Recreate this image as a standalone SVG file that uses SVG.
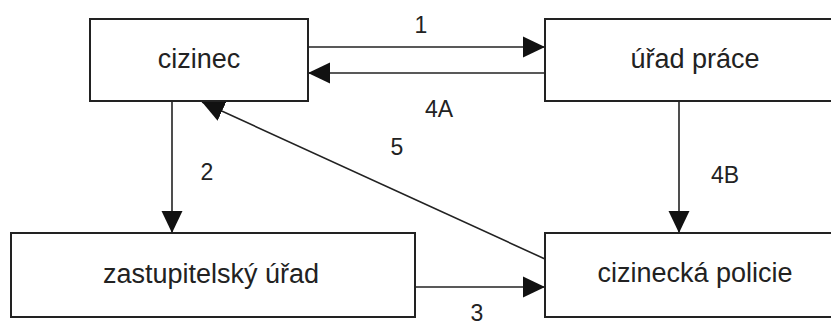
<svg xmlns="http://www.w3.org/2000/svg" width="831" height="327" viewBox="0 0 831 327">
<style>
.box{fill:#fff;stroke:#222;stroke-width:2}
.t{font-family:"Liberation Sans",Arial,sans-serif;font-size:27px;fill:#222;text-anchor:middle}
.l{font-family:"Liberation Sans",Arial,sans-serif;font-size:23px;fill:#222;text-anchor:middle}
.c{stroke:#222;stroke-width:1.6;fill:none;marker-end:url(#ah)}
</style>
<defs>
<marker id="ah" markerUnits="userSpaceOnUse" markerWidth="22" markerHeight="22" viewBox="0 0 21 20" refX="21" refY="10" orient="auto">
<path d="M0,0 L21,10 L0,20 Z" fill="#111"/>
</marker>
</defs>
<rect width="831" height="327" fill="#fff"/>
<g id="connectors">
<line class="c" x1="308" y1="47" x2="545" y2="47"/>
<line class="c" x1="545" y1="73" x2="308" y2="73"/>
<line class="c" x1="172" y1="101" x2="172" y2="233"/>
<line class="c" x1="679" y1="101" x2="679" y2="233"/>
<line class="c" x1="415" y1="287" x2="545" y2="287"/>
<line class="c" x1="545" y1="259" x2="202" y2="102"/>
<text class="l" x="421" y="33">1</text>
<text class="l" x="439" y="117">4A</text>
<text class="l" x="207" y="180">2</text>
<text class="l" x="725" y="183">4B</text>
<text class="l" x="477" y="321">3</text>
<text class="l" x="397" y="155">5</text>
</g>
<g id="cizinec">
<rect class="box" x="90" y="19" width="218" height="82"/>
<text class="t" x="199" y="68">cizinec</text>
</g>
<g id="urad-prace">
<rect class="box" x="545" y="19" width="300" height="82"/>
<text class="t" x="695" y="68">úřad práce</text>
</g>
<g id="zastupitelsky-urad">
<rect class="box" x="11" y="233" width="404" height="84"/>
<text class="t" x="211" y="283">zastupitelský úřad</text>
</g>
<g id="cizinecka-policie">
<rect class="box" x="545" y="233" width="300" height="84"/>
<text class="t" x="695" y="282">cizinecká policie</text>
</g>
</svg>
